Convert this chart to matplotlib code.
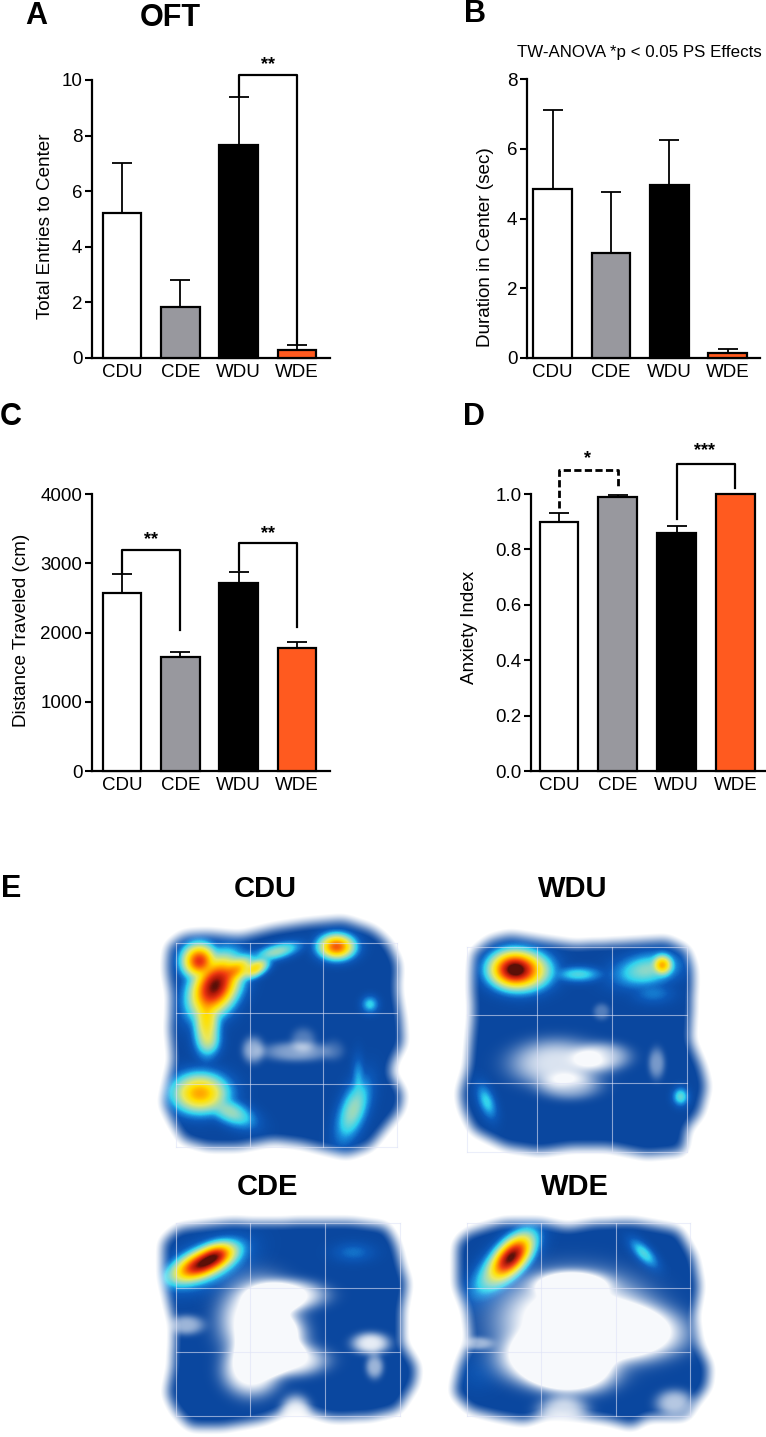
import numpy as np
import matplotlib
matplotlib.use("Agg")
import matplotlib.pyplot as plt
from matplotlib.colors import LinearSegmentedColormap
from matplotlib.path import Path

plt.rcParams["font.family"] = ["Liberation Sans", "DejaVu Sans"]

W, H = 766, 1437

# bar data
groups = ["CDU", "CDE", "WDU", "WDE"]
bar_colors = ["white", "#98989e", "black", "#ff5a1f"]

entries = [5.2, 1.85, 7.65, 0.3]
entries_top = [7.0, 2.8, 9.4, 0.45]
duration = [4.85, 3.0, 4.95, 0.15]
duration_top = [7.1, 4.75, 6.25, 0.25]
distance = [2570, 1640, 2710, 1770]
distance_top = [2840, 1720, 2870, 1860]
anxiety = [0.90, 0.99, 0.86, 1.0]
anxiety_top = [0.93, 0.995, 0.885, 1.0]

# brackets: x from, x to, top, left end, right end
brackets_a = [(2, 3, 10.18, 9.42, 0.47)]
brackets_c = [(0, 1, 3190, 2860, 2040), (2, 3, 3290, 2900, 2080)]
brackets_d = [(0, 1, 1.085, 0.95, 1.02), (2, 3, 1.11, 0.91, 1.02)]

# heatmap shapes, in the coordinates of a 3x crop: outline of the arena,
# hot blobs (x, y, sx, sy, angle, level), holes (x, y, sx, sy, depth)
cdu_outline = [(85, 200), (130, 165), (200, 160), (300, 170), (400, 145), (500, 130), (610, 120), (700, 150),
               (745, 190), (775, 250), (770, 330), (785, 420), (790, 490), (760, 540), (750, 580), (790, 640),
               (780, 690), (730, 750), (690, 800), (620, 825), (560, 810), (480, 790), (400, 780), (300, 800),
               (200, 800), (130, 780), (100, 730), (70, 670), (85, 600), (100, 540), (90, 450), (95, 350), (80, 270)]
cdu_hot = [(178, 243, 26, 26, 0, 0.82), (225, 318, 32, 48, 30, 1.0), (285, 272, 32, 18, -30, 0.6),
           (200, 420, 20, 48, 0, 0.5), (205, 480, 19, 24, 0, 0.3), (345, 265, 24, 13, -30, 0.5),
           (410, 215, 38, 13, -15, 0.28), (590, 200, 27, 19, 0, 0.75), (690, 373, 14, 14, 0, 0.18),
           (180, 640, 42, 30, 0, 0.62), (270, 695, 42, 20, 25, 0.28), (640, 690, 22, 52, 20, 0.28),
           (655, 600, 11, 38, 0, 0.14)]
cdu_holes = [(340, 510, 20, 24, 0.55), (470, 515, 62, 18, 0.5), (490, 480, 22, 22, 0.3), (580, 510, 20, 20, 0.15)]
cdu_grid = ([107, 330, 550, 770], [190, 400, 612, 800])

wdu_outline = [(100, 220), (150, 180), (210, 165), (300, 180), (400, 195), (520, 190), (680, 180), (740, 210),
               (760, 270), (755, 400), (750, 480), (785, 560), (800, 620), (780, 700), (740, 745), (730, 815),
               (620, 825), (500, 800), (400, 800), (300, 815), (200, 800), (100, 750), (70, 690), (60, 640),
               (85, 560), (90, 500), (100, 400), (95, 300)]
wdu_hot = [(222, 268, 36, 27, 0, 1.0), (245, 272, 42, 29, 0, 0.72), (415, 283, 38, 13, 0, 0.2),
           (620, 270, 52, 26, -10, 0.26), (667, 255, 16, 16, 0, 0.6), (640, 340, 34, 18, 0, 0.1),
           (140, 665, 14, 30, -20, 0.18), (722, 650, 13, 15, 0, 0.22)]
wdu_holes = [(350, 550, 85, 44, 0.85), (490, 530, 50, 26, 0.65), (390, 620, 56, 24, 0.5), (650, 550, 15, 28, 0.45),
             (485, 395, 15, 15, 0.3)]
wdu_grid = ([80, 290, 515, 740], [200, 405, 610, 815])

cde_outline = [(60, 215), (100, 175), (240, 155), (300, 160), (480, 155), (540, 155), (640, 170), (665, 220),
               (680, 290), (695, 340), (680, 430), (680, 520), (720, 590), (715, 640), (670, 720), (600, 740),
               (500, 745), (430, 720), (380, 720), (320, 750), (220, 770), (130, 770), (90, 720), (70, 670),
               (85, 590), (90, 470), (75, 400), (60, 320)]
cde_hot = [(165, 280, 44, 20, -28, 1.0), (195, 258, 28, 18, -28, 0.78), (170, 285, 56, 30, -28, 0.3),
           (555, 247, 30, 17, 0, 0.09)]
cde_holes = [(310, 450, 62, 75, 1.2), (385, 375, 60, 28, 1.0), (290, 600, 46, 48, 1.1), (390, 570, 58, 30, 1.0),
             (600, 520, 30, 20, 0.9), (120, 465, 28, 18, 0.6), (350, 505, 50, 40, 0.9), (405, 725, 24, 30, 0.9),
             (610, 590, 14, 22, 0.6)]
cde_grid = ([93, 287, 480, 675], [160, 353, 545, 738])

wde_outline = [(825, 220), (850, 190), (950, 155), (1040, 155), (1110, 175), (1180, 160), (1280, 155), (1400, 180),
               (1440, 260), (1455, 350), (1440, 440), (1450, 520), (1480, 590), (1475, 650), (1440, 700), (1420, 740),
               (1320, 740), (1280, 770), (1220, 750), (1130, 735), (1060, 730), (1000, 755), (930, 740), (860, 720),
               (815, 670), (830, 590), (860, 510), (850, 420), (825, 350), (825, 280)]
wde_hot = [(965, 262, 20, 40, 35, 1.0), (945, 285, 24, 56, 38, 0.38), (1310, 250, 12, 28, -38, 0.2),
           (880, 610, 30, 30, 0, 0.04)]
wde_holes = [(1130, 450, 120, 85, 1.3), (1060, 570, 78, 48, 1.2), (1280, 490, 85, 50, 1.2), (1130, 610, 68, 40, 1.1),
             (1120, 340, 58, 24, 0.9), (1100, 720, 40, 25, 0.8), (1390, 700, 30, 25, 0.7), (875, 520, 25, 12, 0.5)]
wde_grid = ([850, 1043, 1237, 1430], [160, 353, 545, 738])

heat_cmap = LinearSegmentedColormap.from_list("heat", [
    (0.0, "#0a479f"), (0.06, "#0c58b8"), (0.12, "#1a8ddc"), (0.17, "#2fd2ee"), (0.26, "#8fd8c8"),
    (0.4, "#e8e860"), (0.52, "#ffe000"), (0.66, "#ff9000"), (0.8, "#f03a10"), (0.93, "#b01808"), (1.0, "#5a1008")])


def blur(a, sigma):
    r = int(3 * sigma)
    k = np.exp(-0.5 * (np.arange(-r, r + 1) / sigma) ** 2)
    k /= k.sum()
    a = np.apply_along_axis(lambda m: np.convolve(m, k, mode="same"), 0, a)
    return np.apply_along_axis(lambda m: np.convolve(m, k, mode="same"), 1, a)


def heatmap(ax, x0, y0, sx, sy, outline, hot, holes, grid):
    # image region in figure pixels
    left, right = x0 + min(p[0] for p in outline) / sx - 25, x0 + max(p[0] for p in outline) / sx + 25
    top, bottom = y0 + min(p[1] for p in outline) / sy - 25, y0 + max(p[1] for p in outline) / sy + 25
    left, top = int(left), int(top)
    right, bottom = int(right), min(int(bottom), H)
    xx, yy = np.meshgrid(np.arange(left, right) + 0.5, np.arange(top, bottom) + 0.5)
    u, v = (xx - x0) * sx, (yy - y0) * sy

    mask = Path(outline).contains_points(np.c_[u.ravel(), v.ravel()]).reshape(u.shape).astype(float)
    cover = blur(mask, 6)
    cover = np.clip((cover - 0.1) / 0.8, 0, 1)

    h = np.zeros(u.shape)
    for bx, by, bsx, bsy, ang, lev in hot:
        t = np.deg2rad(ang)
        du, dv = u - bx, v - by
        a = du * np.cos(t) + dv * np.sin(t)
        b = -du * np.sin(t) + dv * np.cos(t)
        h += (lev * np.exp(-0.5 * ((a / (bsx * 1.3)) ** 2 + (b / (bsy * 1.3)) ** 2))) ** 3
    h = np.clip(h ** (1 / 3), 0, 1)

    hole = np.zeros(u.shape)
    for bx, by, bsx, bsy, depth in holes:
        hole += depth * np.exp(-0.5 * (((u - bx) / (bsx * 1.3)) ** 2 + ((v - by) / (bsy * 1.3)) ** 2) ** 1.6)
    cover = cover * (1 - np.clip(hole, 0, 0.97))

    rgb = heat_cmap(h)[:, :, :3]
    rgb = rgb * cover[:, :, None] + (1 - cover[:, :, None])
    ax.imshow(rgb, extent=(left, right, bottom, top), interpolation="bilinear", aspect="auto", zorder=1)

    gx, gy = grid
    for g in gx:
        ax.plot([x0 + g / sx] * 2, [y0 + gy[0] / sy, y0 + gy[-1] / sy], color="#dfe3f7", lw=0.8, alpha=0.6, zorder=2)
    for g in gy:
        ax.plot([x0 + gx[0] / sx, x0 + gx[-1] / sx], [y0 + g / sy] * 2, color="#dfe3f7", lw=0.8, alpha=0.6, zorder=2)


def bar_panel(left, right, top, bottom, c0, step, ymax, ticks, ticklabels, vals, tops, brackets=(), dashed=()):
    a = fig.add_axes([left / W, 1 - bottom / H, (right - left) / W, (bottom - top) / H])
    a.patch.set_alpha(0)
    a.set_xlim((left - c0) / step, (right - c0) / step)
    a.set_ylim(0, ymax)
    x = np.arange(len(groups))
    up = [t - v for t, v in zip(tops, vals)]
    a.errorbar(x, vals, yerr=[np.zeros(4), up], fmt="none", ecolor="black", elinewidth=1.3,
               capsize=7.5, capthick=1.3, zorder=2, clip_on=False)
    a.bar(x, vals, width=0.66, color=bar_colors, edgecolor="black", linewidth=1.6, zorder=3, clip_on=False)
    for i, (x1, x2, y, y1, y2) in enumerate(brackets):
        if i in dashed:
            a.plot([x1, x1, x2, x2], [y1, y, y, y2], color="black", lw=2, clip_on=False, ls=(0, (2.6, 1.2)), zorder=4)
        else:
            a.plot([x1, x1, x2, x2], [y1, y, y, y2], color="black", lw=1.6, clip_on=False, zorder=4)
    for s in ["top", "right"]:
        a.spines[s].set_visible(False)
    for s in ["left", "bottom"]:
        a.spines[s].set_linewidth(1.6)
    a.set_yticks(ticks)
    a.set_yticklabels(ticklabels)
    a.set_xticks(x)
    a.set_xticklabels(groups)
    a.tick_params(axis="y", length=5, width=1.5, labelsize=13.5, pad=2)
    a.tick_params(axis="x", length=0, labelsize=13.5, pad=4)
    return a


fig = plt.figure(figsize=(W / 100, H / 100), dpi=100, facecolor="white")
bg = fig.add_axes([0, 0, 1, 1])
bg.set_xlim(0, W)
bg.set_ylim(H, 0)
bg.axis("off")

heatmap(bg, 140, 880, 3, 3, cdu_outline, cdu_hot, cdu_holes, cdu_grid)
heatmap(bg, 440, 880, 3, 3, wdu_outline, wdu_hot, wdu_holes, wdu_grid)
heatmap(bg, 140, 1170, 2.6, 3, cde_outline, cde_hot, cde_holes, cde_grid)
heatmap(bg, 140, 1170, 2.6, 3, wde_outline, wde_hot, wde_holes, wde_grid)
bg.set_xlim(0, W)
bg.set_ylim(H, 0)

bar_panel(92, 330, 80, 358, 122, 58.3, 10, [0, 2, 4, 6, 8, 10], ["0", "2", "4", "6", "8", "10"],
          entries, entries_top, brackets_a)
bar_panel(527, 760, 79, 358, 552.5, 58.4, 8, [0, 2, 4, 6, 8], ["0", "2", "4", "6", "8"],
          duration, duration_top)
bar_panel(92, 330, 494, 771, 122, 58.3, 4000, [0, 1000, 2000, 3000, 4000], ["0", "1000", "2000", "3000", "4000"],
          distance, distance_top, brackets_c)
bar_panel(531, 765, 494, 771, 559, 58.8, 1.0, [0, 0.2, 0.4, 0.6, 0.8, 1.0], ["0.0", "0.2", "0.4", "0.6", "0.8", "1.0"],
          anxiety, anxiety_top, brackets_d, dashed=[0])

# labels placed in figure pixels
for s, x, y in [("A", 36, 16), ("B", 475, 14), ("C", 11, 417), ("D", 474, 417), ("E", 11, 889)]:
    bg.text(x, y, s, fontsize=22, fontweight="bold", ha="center", va="center")
bg.text(170, 18, "OFT", fontsize=22, fontweight="bold", ha="center", va="center")
bg.text(639, 53, "TW-ANOVA *p < 0.05 PS Effects", fontsize=12.2, ha="center", va="center")

for s, x, y in [("Total Entries to Center", 46, 226), ("Duration in Center (sec)", 485, 247),
                ("Distance Traveled (cm)", 22, 630), ("Anxiety Index", 469, 627)]:
    bg.text(x, y, s, fontsize=13.6, rotation=90, ha="center", va="center")

for s, x, y in [("**", 268, 65), ("**", 151, 540), ("**", 268, 534), ("*", 588, 459), ("***", 705, 451)]:
    bg.text(x, y, s, fontsize=13, fontweight="bold", ha="center", va="center", zorder=5)

for s, x, y in [("CDU", 265, 889), ("WDU", 573, 889), ("CDE", 267, 1187), ("WDE", 575, 1187)]:
    bg.text(x, y, s, fontsize=21, fontweight="bold", ha="center", va="center", zorder=5)

fig.savefig("out.png", dpi=100)
